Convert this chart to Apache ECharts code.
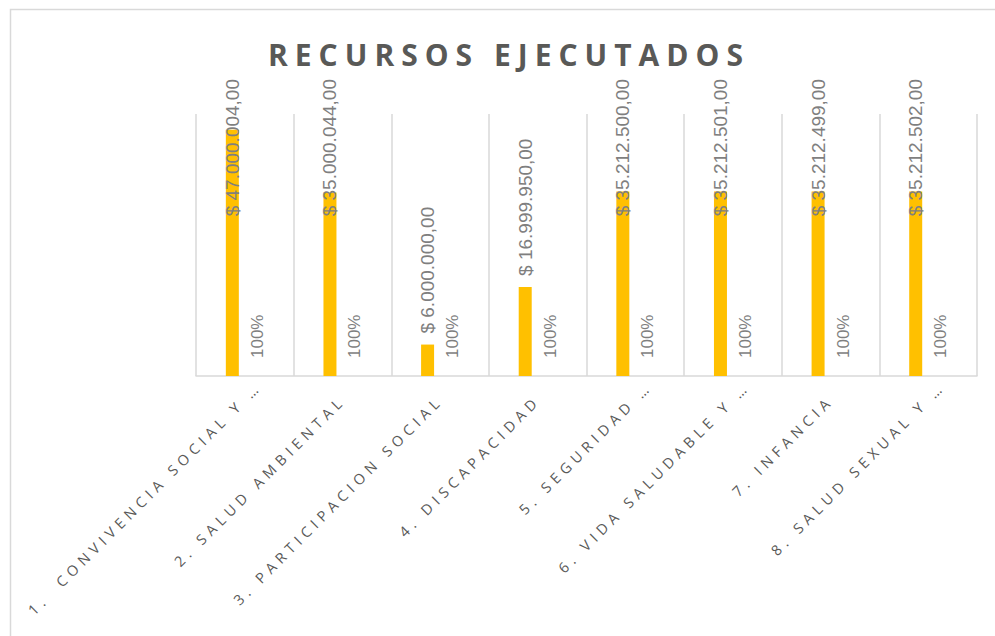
<!DOCTYPE html>
<html>
<head>
<meta charset="utf-8">
<script src="https://cdn.jsdelivr.net/npm/echarts@6/dist/echarts.min.js"></script>
<style>
  html, body { margin: 0; padding: 0; background: #fff; }
  #main { width: 995px; height: 636px; }
  /* espaciado de letras estilo Excel (solo titulo y etiquetas del eje) */
  text[fill="#595958"] { letter-spacing: 5px; }
  text[fill="#595957"] { letter-spacing: 7px; }
</style>
</head>
<body>
<div id="main"></div>
<script type="text/javascript">
var categorias = [
    '1.  CONVIVENCIA SOCIAL Y …',
    '2. SALUD AMBIENTAL',
    '3. PARTICIPACION SOCIAL',
    '4. DISCAPACIDAD',
    '5. SEGURIDAD …',
    '6. VIDA SALUDABLE Y …',
    '7. INFANCIA',
    '8. SALUD SEXUAL Y …'
];
var recursos = [47000004, 35000044, 6000000, 16999950, 35212500, 35212501, 35212499, 35212502];
var porcentaje = [1, 1, 1, 1, 1, 1, 1, 1];

function pesos(v) {
    var s = v.toFixed(2).split('.');
    return '$ ' + s[0].replace(/\B(?=(\d{3})+(?!\d))/g, '.') + ',' + s[1];
}

// las etiquetas recortadas (…) de Excel quedan un poco mas arriba
var ejeX = categorias.map(function (c) {
    if (c.indexOf('…') > -1) {
        return {value: c, textStyle: {padding: [0, -20, 0, 0]}};
    }
    return c;
});

var myChart = echarts.init(document.getElementById('main'), null, {renderer: 'svg'});
var option = {
    animation: false,
    graphic: [{
        type: 'rect',
        shape: {x: 10.5, y: 9.5, width: 1000, height: 700},
        style: {fill: 'none', stroke: '#d9d9d9', lineWidth: 1.5},
        silent: true
    }],
    title: {
        text: 'RECURSOS EJECUTADOS',
        left: 263,
        top: 34,
        textStyle: {
            color: '#595957',
            fontFamily: '"Open Sans", sans-serif',
            fontWeight: 'bold',
            fontSize: 30
        }
    },
    grid: {left: 196, right: 18, top: 114, bottom: 260},
    xAxis: {
        type: 'category',
        data: ejeX,
        axisLine: {lineStyle: {color: '#d9d9d9', width: 1.5}},
        axisTick: {show: false},
        splitLine: {show: true, lineStyle: {color: '#d9d9d9', width: 1.5}},
        axisLabel: {
            interval: 0,
            rotate: 45,
            margin: 22,
            color: '#595958',
            fontFamily: '"Open Sans", sans-serif',
            fontSize: 14.5
        }
    },
    yAxis: {
        type: 'value',
        min: 0,
        max: 50000000,
        show: false
    },
    series: [
        {
            name: 'Recursos',
            type: 'bar',
            data: recursos,
            barWidth: 13,
            barGap: '92%',
            itemStyle: {color: '#FFC000'},
            label: {
                show: true,
                position: 'top',
                rotate: 90,
                align: 'left',
                verticalAlign: 'middle',
                distance: 11,
                color: '#7f7f7f',
                fontFamily: '"Liberation Sans", sans-serif',
                fontSize: 19,
                formatter: function (p) { return pesos(p.value); }
            },
            labelLayout: function (p) {
                var tope = 79;
                if (p.labelRect.y < tope) {
                    return {y: tope + p.labelRect.height};
                }
            }
        },
        {
            name: 'Porcentaje',
            type: 'bar',
            data: porcentaje,
            barWidth: 13,
            itemStyle: {color: '#ED7D31'},
            label: {
                show: true,
                position: 'top',
                rotate: 90,
                align: 'left',
                verticalAlign: 'middle',
                distance: 18,
                color: '#7f7f7f',
                fontFamily: '"Liberation Sans", sans-serif',
                fontSize: 17,
                formatter: function (p) { return Math.round(p.value * 100) + '%'; }
            }
        }
    ]
};
myChart.setOption(option);
</script>
</body>
</html>
